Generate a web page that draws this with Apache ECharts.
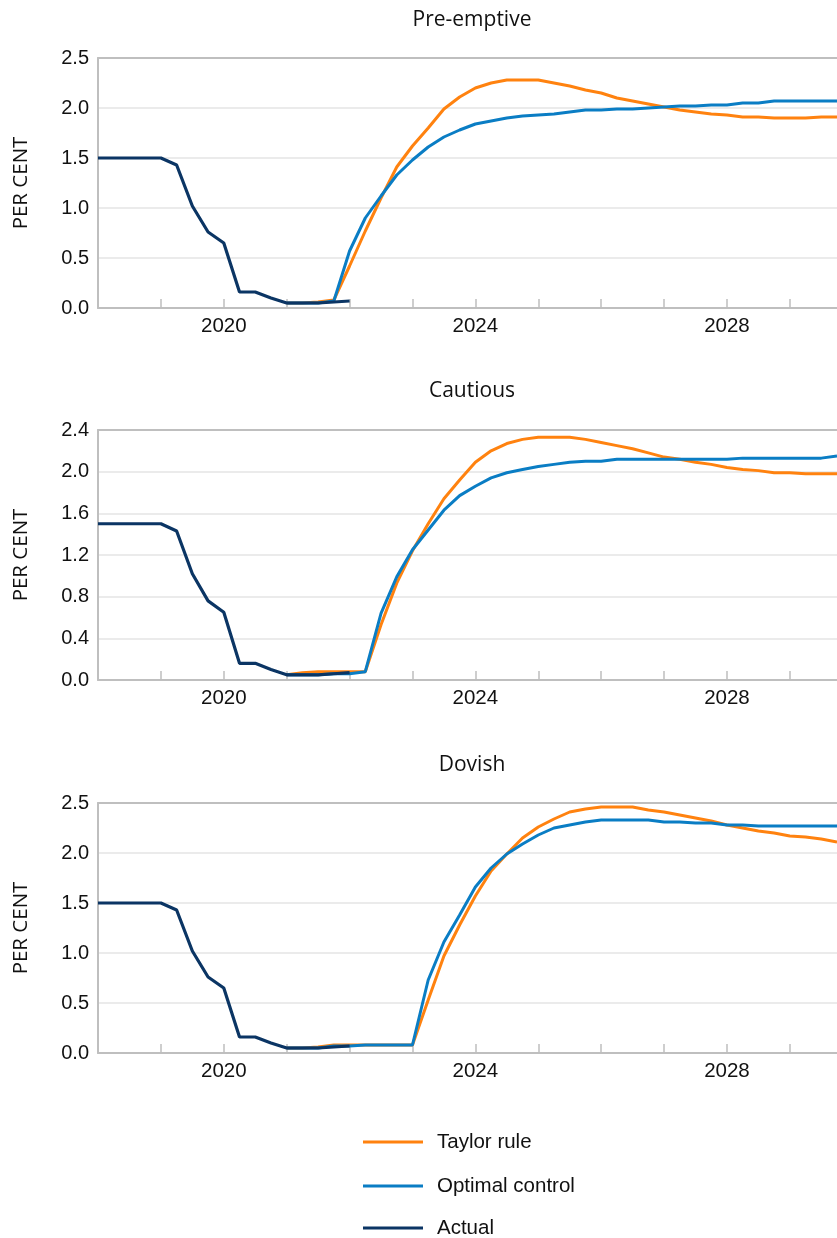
<!DOCTYPE html>
<html>
<head>
<meta charset="utf-8">
<script src="https://cdn.jsdelivr.net/npm/echarts@6/dist/echarts.min.js"></script>
<style>
  html, body { margin: 0; padding: 0; background: #ffffff; }
  #chart { width: 837px; height: 1238px; }
</style>
</head>
<body>
<div id="chart"></div>
<script>
// Quarterly dates (decimal years), 2018 Q1 .. 2029 Q4
const quarters = [
  2018.00, 2018.25, 2018.50, 2018.75,
  2019.00, 2019.25, 2019.50, 2019.75,
  2020.00, 2020.25, 2020.50, 2020.75,
  2021.00, 2021.25, 2021.50, 2021.75,
  2022.00, 2022.25, 2022.50, 2022.75,
  2023.00, 2023.25, 2023.50, 2023.75,
  2024.00, 2024.25, 2024.50, 2024.75,
  2025.00, 2025.25, 2025.50, 2025.75,
  2026.00, 2026.25, 2026.50, 2026.75,
  2027.00, 2027.25, 2027.50, 2027.75,
  2028.00, 2028.25, 2028.50, 2028.75,
  2029.00, 2029.25, 2029.50, 2029.75
];

const panelTitles = ['Pre-emptive', 'Cautious', 'Dovish'];
const seriesNames = ['Taylor rule', 'Optimal control', 'Actual'];
const yearTicks = [2019, 2020, 2021, 2022, 2023, 2024, 2025, 2026, 2027, 2028, 2029];
const yearLabels = [2020, 2024, 2028];
const yAxisMax = [2.5, 2.4, 2.5];
const yAxisStep = [0.5, 0.4, 0.5];

// Actual policy rate, 2018 Q1 .. 2022 Q1
const actual = [
  1.50, 1.50, 1.50, 1.50,
  1.50, 1.43, 1.02, 0.76,
  0.65, 0.16, 0.16, 0.10,
  0.05, 0.05, 0.05, 0.06,
  0.07
];

// Scenario paths, 2021 Q1 .. 2029 Q4
const preTaylor = [
  0.05, 0.05, 0.06, 0.08,
  0.42, 0.77, 1.10, 1.41,
  1.62, 1.80, 1.99, 2.11,
  2.20, 2.25, 2.28, 2.28,
  2.28, 2.25, 2.22, 2.18,
  2.15, 2.10, 2.07, 2.04,
  2.01, 1.98, 1.96, 1.94,
  1.93, 1.91, 1.91, 1.90,
  1.90, 1.90, 1.91, 1.91
];
const preOptimal = [
  0.05, 0.05, 0.05, 0.07,
  0.57, 0.90, 1.12, 1.33,
  1.48, 1.61, 1.71, 1.78,
  1.84, 1.87, 1.90, 1.92,
  1.93, 1.94, 1.96, 1.98,
  1.98, 1.99, 1.99, 2.00,
  2.01, 2.02, 2.02, 2.03,
  2.03, 2.05, 2.05, 2.07,
  2.07, 2.07, 2.07, 2.07
];
const cauTaylor = [
  0.05, 0.07, 0.08, 0.08,
  0.08, 0.08, 0.53, 0.93,
  1.24, 1.50, 1.74, 1.92,
  2.09, 2.20, 2.27, 2.31,
  2.33, 2.33, 2.33, 2.31,
  2.28, 2.25, 2.22, 2.18,
  2.14, 2.12, 2.09, 2.07,
  2.04, 2.02, 2.01, 1.99,
  1.99, 1.98, 1.98, 1.98
];
const cauOptimal = [
  0.05, 0.05, 0.05, 0.06,
  0.06, 0.08, 0.64, 0.99,
  1.25, 1.44, 1.63, 1.77,
  1.86, 1.94, 1.99, 2.02,
  2.05, 2.07, 2.09, 2.10,
  2.10, 2.12, 2.12, 2.12,
  2.12, 2.12, 2.12, 2.12,
  2.12, 2.13, 2.13, 2.13,
  2.13, 2.13, 2.13, 2.15
];
const dovTaylor = [
  0.05, 0.05, 0.06, 0.08,
  0.08, 0.08, 0.08, 0.08,
  0.08, 0.53, 0.97, 1.28,
  1.57, 1.82, 1.99, 2.15,
  2.26, 2.34, 2.41, 2.44,
  2.46, 2.46, 2.46, 2.43,
  2.41, 2.38, 2.35, 2.32,
  2.28, 2.25, 2.22, 2.20,
  2.17, 2.16, 2.14, 2.11
];
const dovOptimal = [
  0.05, 0.05, 0.05, 0.07,
  0.07, 0.08, 0.08, 0.08,
  0.08, 0.73, 1.11, 1.38,
  1.66, 1.85, 1.99, 2.09,
  2.18, 2.25, 2.28, 2.31,
  2.33, 2.33, 2.33, 2.33,
  2.31, 2.31, 2.30, 2.30,
  2.28, 2.28, 2.27, 2.27,
  2.27, 2.27, 2.27, 2.27
];
const scenarioStartIndex = 12; // 2021 Q1

const panelTaylor = [preTaylor, cauTaylor, dovTaylor];
const panelOptimal = [preOptimal, cauOptimal, dovOptimal];

const colors = { taylor: '#FF820F', optimal: '#0A7DC4', actual: '#0B3564' };
const sansFont = "'Liberation Sans', Arial, sans-serif";
const calib = "'Open Sans', 'Noto Sans', sans-serif";
const gridTops = [58, 430, 803];
const titleTops = [5, 376, 750];
const legendCenters = [1142, 1186, 1228];

function pairs(values, offset) {
  return values.map((v, i) => [quarters[offset + i], v]);
}

const grids = [], xAxes = [], yAxes = [], series = [], titles = [], legends = [];
for (let p = 0; p < 3; p++) {
  grids.push({ left: 98, right: 0, top: gridTops[p], height: 250 });
  titles.push({
    text: panelTitles[p], left: 467, top: titleTops[p], textAlign: 'center',
    textStyle: { fontFamily: calib, fontSize: 21, fontWeight: 'normal', color: '#111' }
  });
  xAxes.push({
    gridIndex: p, type: 'value', min: 2018, max: 2029.75, interval: 1,
    axisLine: { show: true, lineStyle: { color: '#bfbfbf', width: 2 } },
    axisTick: { show: true, inside: true, length: 9, customValues: yearTicks,
      lineStyle: { color: '#bfbfbf', width: 1.5 } },
    axisLabel: { customValues: yearLabels, margin: 8, fontFamily: sansFont, fontSize: 20.5, color: '#111',
      formatter: v => String(Math.round(v)) },
    splitLine: { show: false }
  });
  xAxes.push({
    gridIndex: p, type: 'value', min: 2018, max: 2029.75, position: 'top',
    axisLine: { show: true, lineStyle: { color: '#bfbfbf', width: 2 } },
    axisTick: { show: false }, axisLabel: { show: false }, splitLine: { show: false }
  });
  yAxes.push({
    gridIndex: p, type: 'value', min: 0, max: yAxisMax[p], interval: yAxisStep[p],
    name: 'PER CENT', nameLocation: 'middle', nameRotate: 90, nameGap: 66,
    nameTextStyle: { fontFamily: calib, fontSize: 20.5, color: '#111' },
    axisLine: { show: true, lineStyle: { color: '#bfbfbf', width: 2 } },
    axisTick: { show: false },
    axisLabel: { margin: 9, fontFamily: sansFont, fontSize: 20, color: '#111',
      formatter: v => v.toFixed(1) },
    splitLine: { show: true, lineStyle: { color: '#e4e4e4', width: 1.5 } }
  });
  const xi = p * 2;
  series.push({
    name: seriesNames[0], type: 'line', xAxisIndex: xi, yAxisIndex: p,
    data: pairs(panelTaylor[p], scenarioStartIndex), showSymbol: false, symbol: 'none',
    color: colors.taylor, lineStyle: { color: colors.taylor, width: 3 }, z: 3
  });
  series.push({
    name: seriesNames[1], type: 'line', xAxisIndex: xi, yAxisIndex: p,
    data: pairs(panelOptimal[p], scenarioStartIndex), showSymbol: false, symbol: 'none',
    color: colors.optimal, lineStyle: { color: colors.optimal, width: 3 }, z: 4
  });
  series.push({
    name: seriesNames[2], type: 'line', xAxisIndex: xi, yAxisIndex: p,
    data: pairs(actual, 0), showSymbol: false, symbol: 'none',
    color: colors.actual, lineStyle: { color: colors.actual, width: 3.2 }, z: 5
  });
}

for (let i = 0; i < 3; i++) {
  legends.push({
    data: [seriesNames[i]], orient: 'vertical', left: 363, top: legendCenters[i] - 12,
    padding: 0, icon: 'rect', itemWidth: 60, itemHeight: 3, itemGap: 0,
    textStyle: { fontFamily: sansFont, fontSize: 20.5, color: '#111', lineHeight: 24, padding: [0, 0, 0, 9] }
  });
}

const chart = echarts.init(document.getElementById('chart'), null, { renderer: 'canvas' });
chart.setOption({
  animation: false,
  backgroundColor: '#ffffff',
  title: titles,
  grid: grids,
  xAxis: xAxes,
  yAxis: yAxes,
  legend: legends,
  series: series
});
</script>
</body>
</html>
